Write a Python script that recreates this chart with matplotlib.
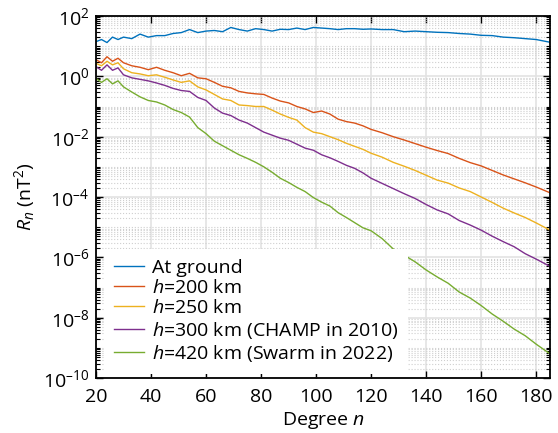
import numpy as np
import matplotlib
matplotlib.use("Agg")
import matplotlib.pyplot as plt
from matplotlib.ticker import FixedLocator, NullFormatter, FuncFormatter

FONT = "Open Sans"
plt.rcParams['font.family'] = [FONT, 'DejaVu Sans']
plt.rcParams['mathtext.fontset'] = 'custom'
plt.rcParams['mathtext.rm'] = FONT
plt.rcParams['mathtext.it'] = FONT + ':italic'
plt.rcParams['mathtext.bf'] = FONT + ':bold'

degree = [20, 22, 24, 26, 28, 30, 33, 36, 39, 42, 45, 48, 51, 54, 57, 60, 63, 66, 69, 72,
          75, 78, 81, 84, 87, 90, 93, 96, 99, 102, 105, 108, 111, 114, 117, 120, 124, 128,
          132, 136, 140, 144, 148, 152, 156, 160, 164, 168, 172, 176, 180, 185]

# log10 of R_n
log_ground = [1.15, 1.22, 1.12, 1.30, 1.22, 1.30, 1.25, 1.40, 1.30, 1.35, 1.35, 1.42, 1.45, 1.55,
              1.45, 1.50, 1.52, 1.48, 1.62, 1.55, 1.50, 1.58, 1.55, 1.50, 1.56, 1.55, 1.60, 1.55,
              1.62, 1.60, 1.58, 1.55, 1.58, 1.58, 1.56, 1.57, 1.55, 1.55, 1.48, 1.50, 1.48, 1.46,
              1.45, 1.42, 1.40, 1.36, 1.35, 1.30, 1.28, 1.25, 1.22, 1.13]
log_h200 = [0.55, 0.45, 0.65, 0.50, 0.60, 0.45, 0.35, 0.30, 0.22, 0.30, 0.20, 0.12, 0.02, 0.10,
            -0.05, -0.08, -0.20, -0.33, -0.38, -0.50, -0.55, -0.58, -0.60, -0.72, -0.82, -0.88,
            -1.00, -1.08, -1.20, -1.15, -1.25, -1.42, -1.50, -1.55, -1.64, -1.76, -1.87, -2.00,
            -2.11, -2.23, -2.35, -2.46, -2.56, -2.72, -2.86, -2.97, -3.12, -3.27, -3.40, -3.53,
            -3.67, -3.86]
log_h250 = [0.43, 0.35, 0.50, 0.38, 0.45, 0.25, 0.12, 0.08, 0.02, 0.05, -0.03, -0.12, -0.20, -0.15,
            -0.35, -0.45, -0.60, -0.75, -0.80, -0.95, -0.97, -1.00, -1.00, -1.12, -1.25, -1.36,
            -1.45, -1.70, -1.85, -1.90, -2.00, -2.10, -2.22, -2.32, -2.42, -2.55, -2.68, -2.85,
            -2.98, -3.12, -3.28, -3.44, -3.54, -3.70, -3.82, -4.00, -4.18, -4.37, -4.53, -4.68,
            -4.86, -5.10]
log_h300 = [0.32, 0.20, 0.38, 0.20, 0.28, 0.05, -0.05, -0.10, -0.15, -0.22, -0.30, -0.40, -0.47,
            -0.50, -0.70, -0.80, -1.05, -1.22, -1.30, -1.45, -1.55, -1.70, -1.85, -1.95, -2.05,
            -2.12, -2.25, -2.38, -2.45, -2.60, -2.70, -2.82, -2.95, -3.05, -3.20, -3.38, -3.55,
            -3.72, -3.89, -4.05, -4.25, -4.43, -4.56, -4.78, -4.93, -5.10, -5.30, -5.48, -5.65,
            -5.88, -6.06, -6.30]
log_h420 = [-0.07, -0.20, -0.08, -0.25, -0.15, -0.35, -0.52, -0.68, -0.80, -0.85, -0.95, -1.10,
            -1.20, -1.35, -1.70, -1.90, -2.15, -2.30, -2.45, -2.60, -2.72, -2.85, -3.00, -3.18,
            -3.38, -3.52, -3.68, -3.82, -4.02, -4.17, -4.30, -4.52, -4.68, -4.85, -5.02, -5.12,
            -5.38, -5.72, -5.93, -6.15, -6.42, -6.65, -6.86, -7.15, -7.35, -7.60, -7.88, -8.12,
            -8.38, -8.60, -8.88, -9.20]

labels = ["At ground", "$h$=200 km", "$h$=250 km",
          "$h$=300 km (CHAMP in 2010)", "$h$=420 km (Swarm in 2022)"]
colors = ["#0072BD", "#D95319", "#EDB120", "#7E2F8E", "#77AC30"]
series = [log_ground, log_h200, log_h250, log_h300, log_h420]

xticks = [20, 40, 60, 80, 100, 120, 140, 160, 180]
ytick_exp = [-10, -8, -6, -4, -2, 0, 2]

fig = plt.figure(figsize=(5.58, 4.33), dpi=100)
ax = fig.add_axes([96/558, 55/433, 454/558, 362/433])

for vals, lab, c in zip(series, labels, colors):
    ax.plot(degree, 10.0 ** np.array(vals), color=c, lw=1.0, label=lab)

ax.set_yscale('log')
ax.set_xlim(20, 185)
ax.set_ylim(1e-10, 1e2)
ax.xaxis.set_major_locator(FixedLocator(xticks))
ax.yaxis.set_major_locator(FixedLocator([10.0 ** e for e in ytick_exp]))
minor = []
for e in range(-10, 2):
    for s in range(1, 10):
        if s == 1 and e in ytick_exp:
            continue
        minor.append(s * 10.0 ** e)
ax.yaxis.set_minor_locator(FixedLocator(minor))
ax.yaxis.set_minor_formatter(NullFormatter())


def fmt(v, p):
    e = int(round(np.log10(v)))
    s = str(e).replace('-', '\u2013')
    return r"$10^{\mathregular{%s}}$" % s


ax.yaxis.set_major_formatter(FuncFormatter(fmt))

ax.tick_params(which='both', direction='in', top=True, right=True, labelsize=14, colors='black')
ax.tick_params(axis='x', which='major', pad=7)
ax.tick_params(axis='y', which='major', pad=5)
ax.tick_params(which='major', length=5, width=1.0)
ax.tick_params(which='minor', length=3, width=0.8)
for sp in ax.spines.values():
    sp.set_linewidth(1.3)

ax.grid(True, which='major', color='#e3e3e3', lw=1.2, ls='-')
ax.grid(True, which='minor', axis='y', color='#cfcfcf', lw=0.8, ls=':')
ax.set_axisbelow(True)

ax.set_xlabel("Degree $n$", fontsize=14, labelpad=3)
ax.set_ylabel("$R_n$ (nT$^2$)", fontsize=14, labelpad=4)

leg = ax.legend(loc='lower left', bbox_to_anchor=(0.018, 0.012), fontsize=14, frameon=True,
                fancybox=False, edgecolor='white', framealpha=1.0, handlelength=1.55,
                handletextpad=0.4, labelspacing=0.12, borderpad=0.5, borderaxespad=0.0)
leg.get_frame().set_linewidth(0)

fig.savefig("out.png", dpi=100)
